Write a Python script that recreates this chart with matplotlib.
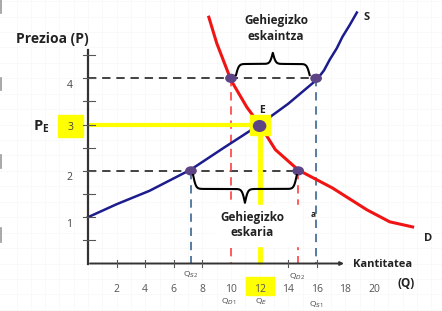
import numpy as np
import matplotlib.pyplot as plt
from matplotlib.patches import Rectangle, Ellipse

plt.rcParams['font.family'] = ['Open Sans', 'DejaVu Sans']
plt.rcParams['mathtext.fontset'] = 'custom'
plt.rcParams['mathtext.rm'] = 'Open Sans'
plt.rcParams['mathtext.bf'] = 'Open Sans:bold'

# curves (Q, P)
q_supply = [0, 2, 4.3, 7.2, 9.5, 12, 14, 16, 16.5, 16.9, 17.4, 17.8, 18.3, 18.8]
p_supply = [1, 1.28, 1.57, 2.03, 2.5, 3.0, 3.45, 3.97, 4.17, 4.4, 4.65, 4.9, 5.15, 5.42]
q_demand = [8.45, 9.0, 10.0, 11.1, 12.0, 13.1, 14.7, 17.1, 19.5, 21.1, 22.7]
p_demand = [5.32, 4.76, 3.96, 3.38, 3.0, 2.46, 2.02, 1.63, 1.16, 0.9, 0.79]

x_labels = [2, 4, 6, 8, 10, 12, 14, 16, 18, 20]
x_marks = [2, 4, 6, 8, 14, 16]
y_labels = [1, 2, 3, 4]
y_marks = [0.5, 1, 1.5, 2, 2.5, 3, 3.5, 4, 4.5]

q_e, p_e = 12, 3
p_high, p_low = 4, 2
q_d1, q_s1 = 10, 15.95   # at p_high
q_s2, q_d2 = 7.2, 14.7   # at p_low

red = '#f01414'
navy = '#1c1c8e'
dblue = '#3a6690'
yellow = '#ffff00'
purple = '#5d4585'
dark = '#222222'

fig = plt.figure(figsize=(4.42, 3.11), dpi=100)
ax = fig.add_axes([0, 0, 1, 1])
sx, sy = 14.3, 46.3   # px per unit
ax.set_xlim(-88 / sx, (442 - 88) / sx)
ax.set_ylim((263.5 - 311) / sy, 263.5 / sy)
ax.axis('off')

# faint background grid
for g in np.arange(-5, 25, 1.0):
    ax.axvline(g, color='#f9f9f9', lw=0.6, zorder=0)
for g in np.arange(-1, 5.7, 1 / 3):
    ax.axhline(g, color='#f9f9f9', lw=0.6, zorder=0)

# leftover marks on the left edge
for r0, r1 in [(0, 13), (78, 90), (155, 168), (228, 242)]:
    ax.plot([-6.05, -6.05], [(263.5 - r0) / sy, (263.5 - r1) / sy], color='#999', lw=1.2, zorder=1)

# axes
ax.plot([0, 0], [0, 4.62], color='#333', lw=1.6, zorder=4)
ax.annotate('', xy=(18.1, 0), xytext=(-0.05, 0),
            arrowprops=dict(arrowstyle='-|>', color='#333', lw=1.4, mutation_scale=5), zorder=4)
for v in y_marks:
    ax.plot([-0.35, 0.5], [v, v], color='#555', lw=0.8, zorder=4)
for v in x_marks:
    ax.plot([v, v], [-0.08, 0.08], color='#555', lw=0.8, zorder=4)

# yellow highlight boxes
ax.add_patch(Rectangle((-2.1, 2.73), 1.75, 0.48, color=yellow, zorder=2))
ax.add_patch(Rectangle((11.05, -0.68), 1.95, 0.39, color=yellow, zorder=2))

for v in x_labels:
    ax.text(v, -0.57, str(v), ha='center', va='center', fontsize=7.5, color='#555', zorder=5)
for v in y_labels:
    yv = v - 0.15 if v != p_e else v - 0.07
    xv = -1.3 if v != p_e else -1.2
    ax.text(xv, yv, str(v), ha='center', va='center', fontsize=7.5, color='#444', zorder=5)

# dashed guides
dash = dict(lw=1.2, dashes=(5, 3.5), zorder=2)
ax.plot([0, q_s1], [p_high, p_high], color=dark, **dash)
ax.plot([0, q_d2], [p_low, p_low], color=dark, **dash)
ax.plot([q_d1, q_d1], [p_high, 0], color='#ff4040', **dash)
ax.plot([q_d2, q_d2], [p_low, 0], color='#ff4040', **dash)
ax.plot([q_s1, q_s1], [p_high, 0], color=dblue, **dash)
ax.plot([q_s2, q_s2], [p_low, 0], color=dblue, **dash)

# equilibrium lines
ax.plot([0, q_e], [p_e, p_e], color=yellow, lw=3, zorder=2, solid_capstyle='butt')
ax.plot([q_e, q_e], [p_e, 0], color=yellow, lw=3.5, zorder=2, solid_capstyle='butt')

# curves
ax.plot(q_supply, p_supply, color=navy, lw=1.8, zorder=3)
ax.plot(q_demand, p_demand, color=red, lw=2.2, zorder=3)

# E marker
ax.add_patch(Rectangle((q_e - 0.7, p_e - 0.215), 1.4, 0.43, color=yellow, zorder=6))
ax.add_patch(Ellipse((q_e, p_e - 0.03), 0.85, 0.23, color=purple, zorder=7))
for q, p in [(q_d1, p_high), (q_s1, p_high), (q_s2, p_low), (q_d2, p_low)]:
    ax.add_patch(Ellipse((q, p), 0.72, 0.17, color=purple, zorder=7))


def brace(x1, x2, y, h, beta=10):
    xs = np.linspace(x1, x2, 401)
    half = xs[:201]
    yh = 1 / (1 + np.exp(-beta * (half - half[0]))) + 1 / (1 + np.exp(-beta * (half - half[-1])))
    yy = np.concatenate([yh, yh[-2::-1]])
    ax.plot(xs, y + (yy - 0.5) * h, color='black', lw=1.5, zorder=8)


# white box behind the lower label
ax.add_patch(Rectangle((8.9, 0.38), 5.9, 0.88, color='white', zorder=5))

brace(10.35, 15.5, 4.07, 0.48)
brace(7.35, 14.6, 1.91, -0.6)

bold = dict(fontweight='bold', color=dark, zorder=9)
ax.text(13.15, 5.08, 'Gehiegizko\neskaintza', ha='center', va='center', fontsize=8.5,
        linespacing=1.25, **bold)
ax.text(11.47, 0.83, 'Gehiegizko\neskaria', ha='center', va='center', fontsize=8.5,
        linespacing=1.25, **bold)
ax.text(-2.52, 4.85, 'Prezioa (P)', ha='center', va='center', fontsize=10, **bold)
ax.text(-3.3, 2.95, r'$\mathbf{P_E}$', ha='center', va='center', fontsize=10.5, **bold)
ax.text(q_e + 0.17, 3.3, 'E', ha='center', va='center', fontsize=7.5, **bold)
ax.text(19.45, 5.32, 'S', ha='center', va='center', fontsize=8, **bold)
ax.text(23.8, 0.53, 'D', ha='center', va='center', fontsize=8, **bold)
ax.text(18.5, -0.02, 'Kantitatea', ha='left', va='center', fontsize=8, **bold)
ax.text(22.25, -0.44, '(Q)', ha='center', va='center', fontsize=8.5, **bold)
ax.text(15.75, 1.05, 'a', ha='center', va='center', fontsize=6, **bold)

sub = dict(ha='center', va='center', fontsize=6, color='#444', zorder=9)
ax.text(q_s2, -0.25, r'Q$_{S2}$', **sub)
ax.text(q_d2 - 0.1, -0.29, r'Q$_{D2}$', **sub)
ax.text(q_d1 - 0.2, -0.83, r'Q$_{D1}$', **sub)
ax.text(q_e + 0.1, -0.83, r'Q$_{E}$', **sub)
ax.text(q_s1, -0.9, r'Q$_{S1}$', **sub)

fig.savefig('out.png', dpi=100)
